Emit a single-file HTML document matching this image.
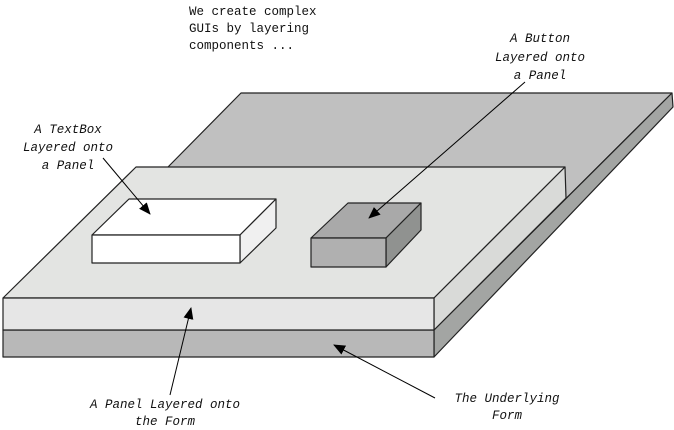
<!DOCTYPE html>
<html><head><style>
html,body{margin:0;padding:0;background:#fff;width:674px;height:430px;overflow:hidden}
svg{display:block}
text{font-family:"Liberation Mono",monospace;font-size:12.5px;fill:#111}
.i{font-style:italic;text-anchor:middle}
</style></head><body>
<svg width="674" height="430" viewBox="0 0 674 430">
<defs><marker id="a" markerWidth="12" markerHeight="10" refX="11" refY="5" orient="auto" markerUnits="userSpaceOnUse"><path d="M0,0 L12,5 L0,10 Z" fill="#000"/></marker></defs>
<g stroke="#222" stroke-width="1.2" stroke-linejoin="round">
<!-- form -->
<polygon points="241,93 672,93 434,330 3,330 168,167" fill="#c0c0c0"/>
<polygon points="672,93 673,107 434,357 434,330" fill="#a3a5a3"/>
<rect x="3" y="330" width="431" height="27" fill="#b8b8b8"/>
<!-- panel -->
<polygon points="136,167 565,167 434,298 3,298" fill="#e3e4e2"/>
<polygon points="565,167 566,198 434,330 434,298" fill="#d9dad8"/>
<rect x="3" y="298" width="431" height="32" fill="#e6e6e6"/>
<!-- textbox -->
<polygon points="129,199 276,199 240,235 92,235" fill="#fff"/>
<polygon points="276,199 276,228 240,263 240,235" fill="#f0f0f0"/>
<rect x="92" y="235" width="148" height="28" fill="#fff"/>
<!-- button -->
<polygon points="348,203 421,203 386,238 311,238" fill="#a9a9a9"/>
<polygon points="421,203 421,230 386,267 386,238" fill="#909290"/>
<rect x="311" y="238" width="75" height="29" fill="#b0b0b0"/>
</g>
<g stroke="#000" stroke-width="1" fill="none">
<line x1="103" y1="158" x2="150" y2="214" marker-end="url(#a)"/>
<line x1="525" y1="82" x2="369" y2="218" marker-end="url(#a)"/>
<line x1="170" y1="395" x2="191" y2="308" marker-end="url(#a)"/>
<line x1="435" y1="398" x2="334" y2="345" marker-end="url(#a)"/>
</g>
<text x="189" y="15">We create complex</text>
<text x="189" y="32">GUIs by layering</text>
<text x="189" y="49">components ...</text>
<text class="i" x="540" y="42">A Button</text>
<text class="i" x="540" y="61">Layered onto</text>
<text class="i" x="540" y="79">a Panel</text>
<text class="i" x="68" y="133">A TextBox</text>
<text class="i" x="68" y="151">Layered onto</text>
<text class="i" x="68" y="169">a Panel</text>
<text class="i" x="165" y="408">A Panel Layered onto</text>
<text class="i" x="165" y="425">the Form</text>
<text class="i" x="507" y="402">The Underlying</text>
<text class="i" x="507" y="419">Form</text>
</svg>
</body></html>
